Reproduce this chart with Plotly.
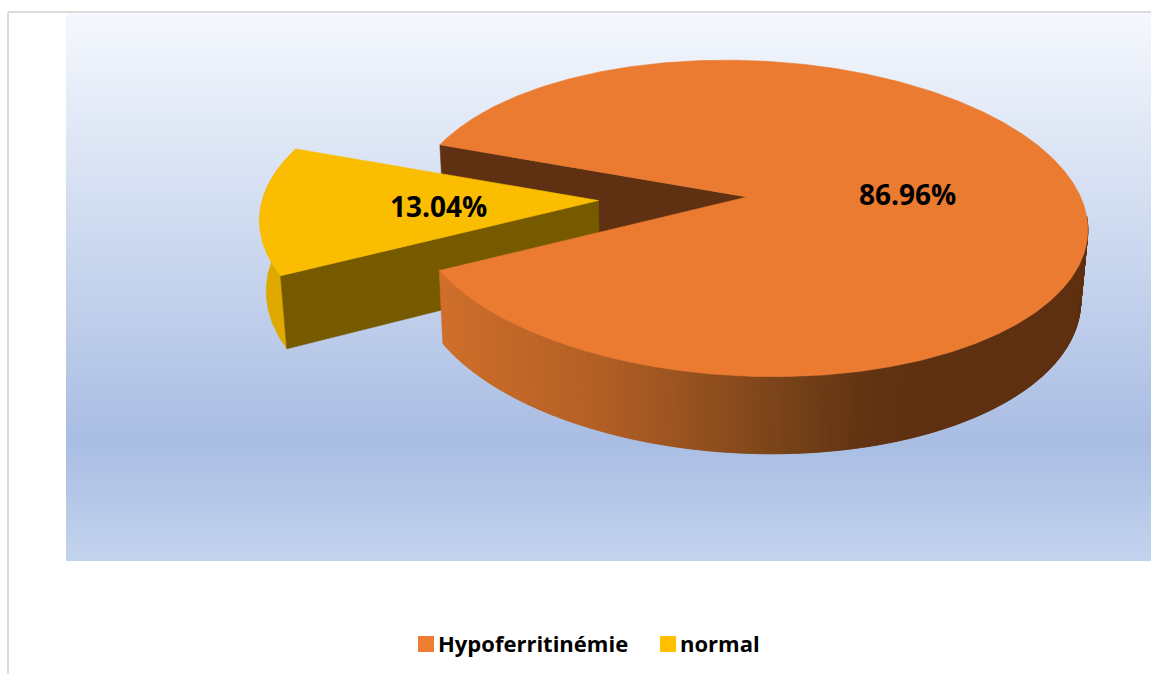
import math
import plotly.graph_objects as go

# Chart data
categories = ["Hypoferritinémie", "normal"]
percentages = [86.96, 13.04]
legend_colors = ["#ED7D31", "#FFC000"]
top_colors = ["#EA7B30", "#FBBD00"]

# Geometry of the tilted disc, in page pixels
APEX_X, APEX_Y = 747.0, 197.0
RADIUS_X, RADIUS_Y = 335.0, 155.0
TILT = -11.0
PERSPECTIVE_Y, PERSPECTIVE_X = 0.135, -0.008
NORMAL_START_DEG = 163.5
NORMAL_TURN_DEG = 0.4
NORMAL_SCALE = 1.0
EXPLODE = 0.445


def project(x, y):
    w = 1 + PERSPECTIVE_Y * y + PERSPECTIVE_X * x
    return (APEX_X + RADIUS_X * x / w,
            APEX_Y - (RADIUS_Y * y + TILT * x) / w)


def lower(p):
    # Same point on the bottom face of the disc
    px, py = p
    return (px - (px - 657) * 0.0165, py + 72 + 0.04 * (py - 250))


def arc(start, sweep, ox=0.0, oy=0.0, scale=1.0, n=120):
    return [project(ox + scale * math.cos(math.radians(start + sweep * i / n)),
                    oy + scale * math.sin(math.radians(start + sweep * i / n)))
            for i in range(n + 1)]


def poly(points, color):
    xs = [p[0] for p in points] + [points[0][0]]
    ys = [p[1] for p in points] + [points[0][1]]
    return go.Scatter(x=xs, y=ys, mode="lines", fill="toself", fillcolor=color,
                      line=dict(color=color, width=0.6), showlegend=False,
                      hoverinfo="skip")


def lerp_hex(stops, v):
    if v <= stops[0][0]:
        return stops[0][1]
    for (a, ca), (b, cb) in zip(stops, stops[1:]):
        if v <= b:
            t = (v - a) / (b - a)
            rgb = [round(int(ca[i:i + 2], 16) * (1 - t) + int(cb[i:i + 2], 16) * t)
                   for i in (1, 3, 5)]
            return "#%02X%02X%02X" % tuple(rgb)
    return stops[-1][1]


SIDE_SHADE = [(441, "#CF6F2B"), (600, "#B25F25"), (720, "#8E4D1E"),
              (800, "#734018"), (860, "#643413"), (920, "#5F3011")]
BACKDROP = [(13, "#F5F8FD"), (440, "#A9BDE3"), (560, "#C3D3EE")]

fig = go.Figure()

# Panel gradient
edges = list(range(13, 561, 3)) + [561]
centres = [(a + b) / 2 for a, b in zip(edges, edges[1:])]
span = BACKDROP[-1][0] - BACKDROP[0][0]
fig.add_trace(go.Heatmap(
    x=[66, 1151], y=edges, z=[[c] for c in centres],
    zmin=13, zmax=560, showscale=False, hoverinfo="skip",
    colorscale=[[(s - 13) / span, c] for s, c in BACKDROP]))

hypo_sweep = percentages[0] * 3.6
normal_sweep = percentages[1] * 3.6
hypo_start = NORMAL_START_DEG + normal_sweep
hypo_end = hypo_start + hypo_sweep

# Cut face of the large slice seen behind the pulled-out one
rim_back = project(math.cos(math.radians(hypo_end)), math.sin(math.radians(hypo_end)))
apex = project(0, 0)
fig.add_trace(poly([rim_back, apex, lower(apex), lower(rim_back)], "#5F3011"))

# Pulled-out slice
mid = math.radians(NORMAL_START_DEG + normal_sweep / 2)
ox, oy = EXPLODE * math.cos(mid), EXPLODE * math.sin(mid)
n_arc = arc(NORMAL_START_DEG + NORMAL_TURN_DEG, normal_sweep, ox, oy, NORMAL_SCALE)
n_apex = project(ox, oy)
fig.add_trace(poly(n_arc + [lower(p) for p in reversed(n_arc)], "#DFA900"))
fig.add_trace(poly([n_apex, n_arc[-1], lower(n_arc[-1]), lower(n_apex)], "#775A00"))
fig.add_trace(poly([n_apex] + n_arc, top_colors[1]))

# Outer wall of the large slice, painted left to right with overlapping bands
wall = arc(hypo_start, hypo_sweep, n=720)
front = wall[:int(len(wall) * 0.47)]
for i in range(0, len(front) - 1):
    band = front[i:i + 3]
    shade = lerp_hex(SIDE_SHADE, front[i][0])
    fig.add_trace(poly(band + [lower(p) for p in reversed(band)], shade))

# Top of the large slice
fig.add_trace(poly([apex] + wall, top_colors[0]))

FONT = "Open Sans, Carlito, Calibri, sans-serif"

# Legend row: square swatch followed by its category name
SWATCH_Y = 644
LABEL_Y = 646
LEGEND_X = [426, 668]
LABEL_GAP = 12
for name, color, lx in zip(categories, legend_colors, LEGEND_X):
    fig.add_trace(go.Scatter(
        x=[lx], y=[SWATCH_Y], mode="markers", name=name, showlegend=False, hoverinfo="skip",
        marker=dict(symbol="square", size=16, color=color)))
    fig.add_trace(go.Scatter(
        x=[lx + LABEL_GAP], y=[LABEL_Y], mode="text", text=["<b>%s</b>" % name],
        textposition="middle right", showlegend=False, hoverinfo="skip",
        textfont=dict(family=FONT, size=22, color="#000000")))

fig.add_annotation(x=907, y=194, text="<b>%.2f%%</b>" % percentages[0], showarrow=False,
                   font=dict(family=FONT, size=28, color="#000000"))
fig.add_annotation(x=438, y=206, text="<b>%.2f%%</b>" % percentages[1], showarrow=False,
                   font=dict(family=FONT, size=28, color="#000000"))

# Frame around the chart area
fig.add_shape(type="line", x0=8, y0=12, x1=1151, y1=12, line=dict(color="#DCDCDC", width=2), layer="below")
fig.add_shape(type="line", x0=8, y0=12, x1=8, y1=674, line=dict(color="#DCDCDC", width=2), layer="below")

fig.update_layout(
    width=1151, height=674, margin=dict(l=0, r=0, t=0, b=0),
    paper_bgcolor="#FFFFFF", plot_bgcolor="#FFFFFF", showlegend=False,
    xaxis=dict(range=[0, 1151], visible=False, fixedrange=True),
    yaxis=dict(range=[674, 0], visible=False, fixedrange=True),
)
fig.write_html("out.html")
